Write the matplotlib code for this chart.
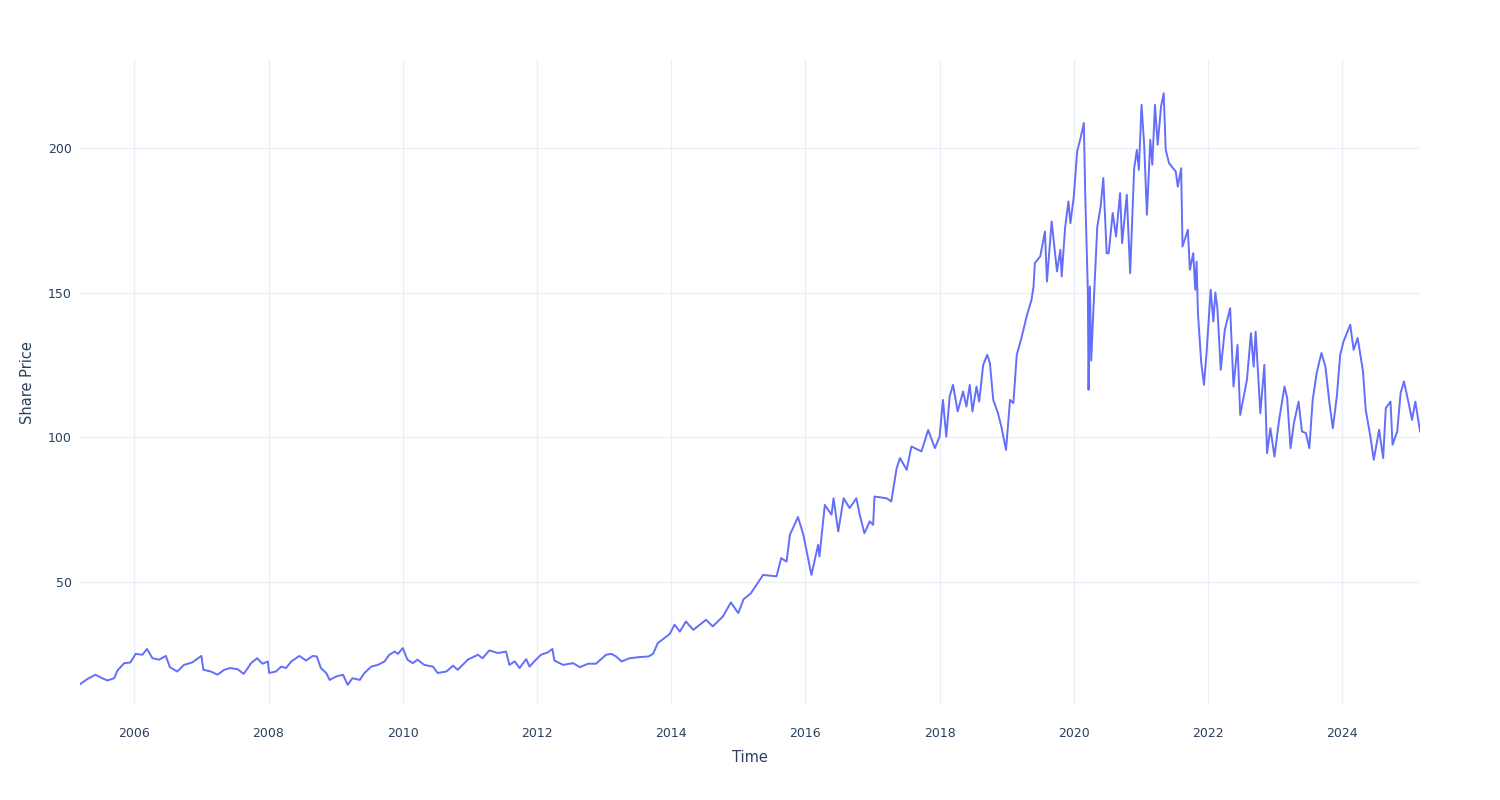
import matplotlib
matplotlib.use("Agg")
import matplotlib.pyplot as plt

# decimal year / share price
years = [
    2005.19, 2005.30, 2005.42, 2005.52, 2005.60, 2005.70, 2005.75, 2005.85, 2005.94,
    2006.02, 2006.12, 2006.19, 2006.27, 2006.37, 2006.47, 2006.53, 2006.64, 2006.74, 2006.86,
    2007.00, 2007.03, 2007.14, 2007.24, 2007.34, 2007.43, 2007.54, 2007.63, 2007.68, 2007.74,
    2007.83, 2007.91, 2007.99,
    2008.01, 2008.11, 2008.19, 2008.26, 2008.34, 2008.46, 2008.56, 2008.66, 2008.72, 2008.78,
    2008.86, 2008.91,
    2009.01, 2009.11, 2009.18, 2009.25, 2009.36, 2009.43, 2009.53, 2009.63, 2009.73, 2009.80,
    2009.88, 2009.93,
    2010.00, 2010.07, 2010.15, 2010.22, 2010.32, 2010.45, 2010.52, 2010.65, 2010.75, 2010.82,
    2010.97,
    2011.12, 2011.19, 2011.29, 2011.42, 2011.54, 2011.59, 2011.67, 2011.74, 2011.84, 2011.89,
    2011.96,
    2012.06, 2012.16, 2012.23, 2012.26, 2012.39, 2012.54, 2012.64, 2012.76, 2012.88,
    2013.03, 2013.11, 2013.18, 2013.26, 2013.38, 2013.53, 2013.66, 2013.73, 2013.80, 2013.98,
    2014.05, 2014.13, 2014.22, 2014.33, 2014.52, 2014.62, 2014.77, 2014.89,
    2015.00, 2015.08, 2015.19, 2015.32, 2015.37, 2015.57, 2015.64, 2015.72, 2015.77, 2015.89, 2015.97,
    2016.09, 2016.19, 2016.21, 2016.29, 2016.39, 2016.42, 2016.49, 2016.57, 2016.66, 2016.76,
    2016.81, 2016.88, 2016.96,
    2017.01, 2017.03, 2017.21, 2017.28, 2017.36, 2017.41, 2017.51, 2017.58, 2017.73, 2017.83, 2017.93,
    2018.00, 2018.05, 2018.10, 2018.15, 2018.20, 2018.27, 2018.35, 2018.40, 2018.45, 2018.49,
    2018.55, 2018.59, 2018.65, 2018.71, 2018.75, 2018.80, 2018.87, 2018.92, 2018.99,
    2019.05, 2019.10, 2019.15, 2019.22, 2019.30, 2019.37, 2019.40, 2019.42, 2019.50, 2019.57,
    2019.60, 2019.67, 2019.75, 2019.80, 2019.82, 2019.87, 2019.92, 2019.95,
    2020.00, 2020.05, 2020.10, 2020.15, 2020.17, 2020.21, 2020.22, 2020.24, 2020.26, 2020.29,
    2020.35, 2020.40, 2020.44, 2020.49, 2020.52, 2020.58, 2020.63, 2020.69, 2020.72, 2020.79,
    2020.84, 2020.90, 2020.94, 2020.97,
    2021.01, 2021.05, 2021.09, 2021.14, 2021.17, 2021.21, 2021.25, 2021.30, 2021.34, 2021.37,
    2021.42, 2021.52, 2021.55, 2021.60, 2021.62, 2021.70, 2021.73, 2021.78, 2021.81, 2021.83,
    2021.85, 2021.90, 2021.94, 2021.98,
    2022.04, 2022.08, 2022.11, 2022.14, 2022.19, 2022.25, 2022.33, 2022.38, 2022.44, 2022.48,
    2022.58, 2022.64, 2022.68, 2022.71, 2022.78, 2022.84, 2022.88, 2022.93, 2022.99,
    2023.06, 2023.14, 2023.18, 2023.23, 2023.28, 2023.35, 2023.40, 2023.46, 2023.51, 2023.56,
    2023.62, 2023.69, 2023.75, 2023.81, 2023.86, 2023.92, 2023.97,
    2024.02, 2024.12, 2024.17, 2024.23, 2024.31, 2024.35, 2024.42, 2024.47, 2024.55, 2024.61,
    2024.65, 2024.72, 2024.75, 2024.82, 2024.87, 2024.92, 2024.99,
    2025.04, 2025.09, 2025.16,
]
price = [
    14.6, 16.4, 17.9, 16.7, 15.9, 16.7, 19.4, 21.9, 22.1,
    25.1, 24.8, 26.8, 23.6, 23.1, 24.4, 20.5, 19.0, 21.3, 22.1,
    24.4, 19.6, 19.0, 17.9, 19.6, 20.2, 19.8, 18.2, 19.8, 21.9,
    23.6, 21.7, 22.5,
    18.5, 19.0, 20.7, 20.2, 22.5, 24.4, 22.8, 24.4, 24.2, 20.2,
    18.5, 16.1,
    17.3, 17.9, 14.4, 16.7, 16.1, 18.5, 20.7, 21.3, 22.5, 24.8,
    25.9, 25.1,
    27.1, 23.1, 21.9, 23.1, 21.3, 20.7, 18.5, 19.0, 21.0, 19.6,
    23.1,
    24.8, 23.6, 26.3, 25.4, 25.9, 21.3, 22.5, 20.2, 23.3, 20.7,
    22.5,
    24.8, 25.6, 26.8, 22.8, 21.3, 21.9, 20.5, 21.7, 21.7,
    24.8, 25.1, 24.2, 22.5, 23.6, 24.0, 24.2, 25.1, 28.8, 32.0,
    35.2, 32.8, 36.3, 33.4, 36.9, 34.6, 38.0, 42.9,
    39.2, 44.0, 46.1, 50.7, 52.4, 51.9, 58.2, 57.0, 66.3, 72.4, 66.3,
    52.4, 62.8, 58.8, 76.6, 73.2, 78.9, 67.4, 78.9, 75.5, 78.9,
    73.2, 66.8, 70.9,
    69.7, 79.5, 78.9, 77.8, 89.3, 92.8, 88.7, 96.8, 95.1, 102.5, 96.2,
    100.2, 112.9, 100.2, 114.1, 118.1, 108.9, 115.8, 110.6, 118.1, 108.9,
    117.5, 112.3, 125.0, 128.5, 125.6, 112.9, 108.3, 103.7, 95.6,
    112.9, 111.8, 128.5, 134.3, 142.0, 147.5, 152.1, 160.2, 162.5, 171.1,
    153.8, 174.6, 157.3, 164.8, 155.6, 172.3, 181.5, 174.0,
    183.2, 198.8, 203.4, 208.6, 184.4, 150.0, 116.4, 152.1, 126.5, 142.9,
    172.8, 179.7, 189.6, 163.6, 163.6, 177.5, 169.4, 184.4, 167.1, 183.8,
    156.7, 193.0, 199.3, 192.4,
    214.9, 200.5, 176.9, 202.8, 194.2, 214.9, 201.1, 214.3, 218.9, 199.3,
    194.7, 191.8, 186.6, 193.0, 165.9, 171.7, 157.9, 163.6, 151.0, 160.7,
    142.9, 125.6, 118.1, 129.6,
    151.0, 140.0, 150.0, 144.6, 123.3, 137.1, 144.6, 117.5, 131.9, 107.7,
    119.8, 136.0, 124.4, 136.5, 108.3, 125.0, 94.5, 103.1, 93.3,
    106.0, 117.5, 113.5, 96.2, 104.9, 112.3, 102.0, 101.4, 96.2, 112.9,
    122.2, 129.1, 124.4, 111.8, 103.1, 114.1, 128.5,
    133.1, 138.9, 130.2, 134.3, 122.7, 109.5, 100.2, 92.2, 102.6, 92.8,
    110.1, 112.3, 97.4, 102.0, 115.2, 119.3, 111.8,
    106.0, 112.3, 102.0,
]

xticks = [2006, 2008, 2010, 2012, 2014, 2016, 2018, 2020, 2022, 2024]
yticks = [50, 100, 150, 200]

grid_col = "#EBF0F8"
text_col = "#2a3f5f"

fig = plt.figure(figsize=(15, 8), dpi=100)
ax = fig.add_axes([0.0533, 0.119, 0.8934, 0.806])

ax.plot(years, price, color="#636EFA", linewidth=1.4, zorder=3)

ax.set_xlim(min(years), max(years))
ax.set_ylim(7.5, 230.4)
ax.set_xticks(xticks)
ax.set_xticklabels([str(t) for t in xticks])
ax.set_yticks(yticks)

ax.grid(True, color=grid_col, linewidth=1)
for s in ax.spines.values():
    s.set_visible(False)
ax.tick_params(axis="both", length=0, labelsize=9, colors=text_col)
ax.tick_params(axis="x", pad=16)
ax.tick_params(axis="y", pad=6)

ax.set_xlabel("Time", fontsize=10.5, color=text_col, labelpad=7)
ax.set_ylabel("Share Price", fontsize=10.5, color=text_col, labelpad=9)

fig.savefig("out.png", dpi=100, facecolor="white")
